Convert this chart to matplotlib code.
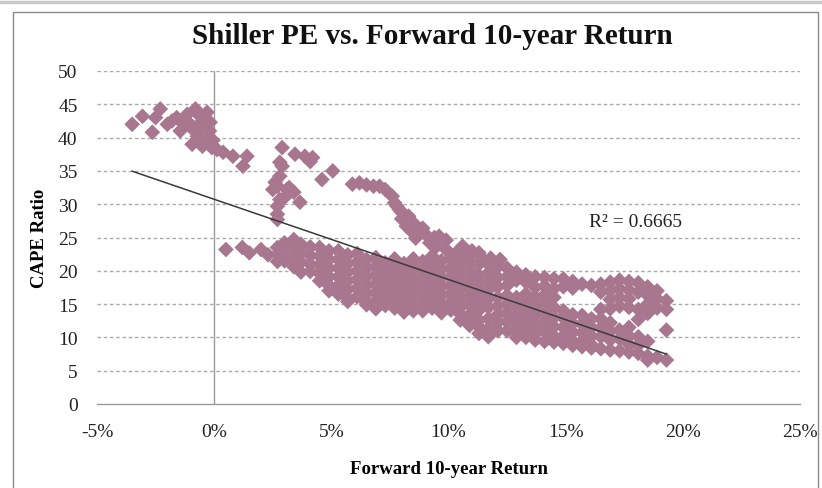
import numpy as np
import matplotlib
matplotlib.use("Agg")
import matplotlib.pyplot as plt

SERIF = ["Liberation Serif", "DejaVu Serif"]
DOT = "#a8778f"

# 1995-2000 bubble: negative forward returns, CAPE around 40
bubble_x = [-3.5, -3.06, -2.64, -2.5, -2.3, -2.0, -1.8, -1.6, -1.45, -1.3, -1.15,
            -1.1, -0.94, -0.9, -0.8, -0.72, -0.65, -0.6, -0.5, -0.47, -0.4, -0.3,
            -0.25, -0.2, -0.17, -0.1, -0.05, 0.12, 0.38, 0.8, 1.23, 1.4]
bubble_y = [42.0, 43.2, 40.8, 43.0, 44.3, 42.0, 42.5, 43.0, 41.0, 42.0, 43.5,
            42.3, 39.0, 41.2, 44.3, 40.2, 42.0, 43.2, 38.7, 41.6, 42.8, 43.8,
            40.0, 41.0, 42.3, 38.5, 39.6, 38.2, 37.8, 37.2, 35.7, 37.2]

# high-CAPE column near 3%
col_x = [2.9, 3.45, 3.87, 4.1, 4.2, 2.8, 2.9, 2.8, 2.7, 2.5, 2.6, 3.1, 3.4,
         3.2, 3.0, 2.8, 3.66, 2.7, 2.7, 2.7]
col_y = [38.5, 37.5, 37.2, 36.4, 37.0, 36.3, 35.7, 34.2, 32.7, 32.2, 33.3,
         32.2, 31.8, 32.5, 31.0, 30.7, 30.3, 29.7, 28.5, 27.7]

# the 32-35 shelf between 4.5% and 7.5%
mid_x = [4.6, 5.06, 5.9, 6.2, 6.5, 6.8, 7.06, 7.3]
mid_y = [33.7, 35.0, 33.0, 33.2, 32.9, 32.7, 32.7, 32.2]

# upper arm sliding down into the main band
arm_x = [7.6, 7.7, 7.8, 7.9, 8.0, 8.0, 8.2, 8.3, 8.4, 8.5, 8.6, 8.6, 8.9, 9.1,
         9.2, 9.4, 9.5, 9.6, 9.9, 9.9, 10.3, 10.6, 10.8, 11.0, 11.3, 11.4,
         11.8, 12.2]
arm_y = [31.2, 30.2, 29.7, 29.2, 28.8, 27.8, 26.7, 28.2, 26.0, 27.2, 25.8,
         24.9, 26.4, 25.2, 24.2, 25.0, 23.7, 25.2, 23.2, 24.6, 22.6, 23.7,
         22.1, 23.0, 22.7, 22.0, 21.9, 21.7]

# main band, read column by column (x, CAPE values)
band_cols = [
    (0.5, [23.2]), (1.2, [23.5]), (1.5, [22.7]), (2.0, [23.2]), (2.3, [22.4]),
    (2.7, [23.5, 22.5, 21.4]),
    (3.0, [24.2, 23.0, 21.5]),
    (3.4, [24.7, 23.4, 22.1, 20.6]),
    (3.7, [24.0, 22.7, 21.3, 19.8]),
    (4.1, [23.6, 22.3, 21.0, 19.9]),
    (4.5, [23.5, 22.2, 20.9, 19.6, 18.5]),
    (4.9, [23.0, 21.7, 20.4, 19.1, 17.8, 17.0]),
    (5.3, [23.0, 21.7, 20.4, 19.1, 17.8, 16.5]),
    (5.7, [22.4, 21.1, 19.8, 18.5, 17.2, 15.9, 15.4]),
    (6.1, [22.6, 21.3, 20.0, 18.7, 17.4, 16.1]),
    (6.5, [21.7, 20.4, 19.1, 17.8, 16.5, 15.2, 14.9]),
    (6.9, [22.0, 20.7, 19.4, 18.1, 16.8, 15.5, 14.3]),
    (7.3, [21.2, 19.9, 18.6, 17.3, 16.0, 14.8]),
    (7.7, [21.8, 20.5, 19.2, 17.9, 16.6, 15.3, 14.4]),
    (8.1, [21.1, 19.8, 18.5, 17.2, 15.9, 14.6, 13.8]),
    (8.5, [21.8, 20.5, 19.2, 17.9, 16.6, 15.3, 14.0]),
    (8.9, [21.4, 20.1, 18.8, 17.5, 16.2, 14.9, 14.0]),
    (9.3, [22.2, 20.9, 19.6, 18.3, 17.0, 15.7, 14.4]),
    (9.7, [21.5, 20.2, 18.9, 17.6, 16.3, 15.0, 13.7]),
    (10.1, [21.8, 20.5, 19.2, 17.9, 16.6, 15.3, 14.1]),
    (10.5, [21.0, 19.7, 18.4, 17.1, 15.8, 14.5, 13.5, 12.6]),
    (10.9, [21.4, 20.1, 18.8, 17.5, 16.2, 14.9, 13.4, 11.8]),
    (11.3, [21.0, 19.3, 18.0, 16.7, 15.4, 14.1, 12.6, 11.6, 10.6]),
    (11.7, [21.0, 19.7, 18.4, 17.1, 15.8, 14.5, 12.8, 11.3, 10.1]),
    (12.1, [20.6, 19.0, 17.6, 16.0, 14.7, 13.4, 12.2, 11.0]),
    (12.5, [20.4, 19.1, 17.8, 16.3, 15.0, 13.7, 12.4, 11.0]),
    (12.9, [19.8, 18.6, 16.0, 14.6, 13.2, 11.9, 10.6, 10.0]),
    (13.3, [19.4, 18.3, 16.5, 15.2, 13.9, 12.6, 11.3, 10.0]),
    (13.7, [19.1, 17.5, 16.0, 14.6, 13.2, 11.8, 10.5, 9.6]),
    (14.1, [19.0, 17.7, 16.4, 15.1, 13.7, 12.3, 10.9, 9.4]),
    (14.5, [18.8, 17.3, 16.0, 14.5, 13.0, 11.6, 10.2, 9.3]),
    (14.9, [18.8, 17.6, 14.0, 12.9, 11.5, 10.2, 9.1]),
    (15.3, [18.4, 17.4, 13.4, 12.1, 10.8, 9.5, 8.8]),
    (15.7, [18.0, 13.3, 12.0, 10.7, 9.4, 8.6]),
    (16.1, [17.8, 12.8, 11.5, 10.2, 8.9, 8.4]),
    (16.5, [18.0, 16.8, 14.2, 12.8, 11.4, 10.1, 8.3]),
    (16.9, [18.3, 17.0, 15.7, 14.3, 12.2, 10.9, 9.6, 8.1]),
    (17.3, [18.6, 17.3, 16.0, 14.7, 11.1, 9.8, 8.0]),
    (17.7, [18.4, 17.1, 15.8, 14.5, 11.5, 10.2, 9.0, 7.8]),
    (18.1, [18.2, 16.8, 14.2, 12.7, 10.1, 8.8, 7.6]),
    (18.5, [17.6, 16.3, 15.0, 13.6, 9.4, 7.2, 6.6]),
    (18.9, [17.0, 15.8, 14.4, 7.0]),
    (19.3, [15.5, 14.2, 11.1, 6.6]),
]

# Excel linear trendline
trend_slope = -1.205
trend_intercept = 30.74
r2_label = "R\u00b2 = 0.6665"

band_x = [x for x, ys in band_cols for _ in ys]
band_y = [y for _, ys in band_cols for y in ys]
xs = np.array(bubble_x + col_x + mid_x + arm_x + band_x)
ys = np.array(bubble_y + col_y + mid_y + arm_y + band_y)

W, H = 822, 489
fig = plt.figure(figsize=(W / 100, H / 100), dpi=100)

# chart-area frame like the Excel screenshot
fig.add_artist(plt.Line2D([0, 1], [1 - 3 / H, 1 - 3 / H], color="#c8c8c8", lw=2.5))
fig.add_artist(plt.Rectangle((13 / W, -0.02), (818 - 13) / W, 1 - 13 / H + 0.02,
                             fill=False, edgecolor="#8a8a8a", lw=1.0))

ax = fig.add_axes([97 / W, 1 - 405 / H, (800 - 97) / W, (405 - 72) / H])
ax.set_xlim(-5, 25)
ax.set_ylim(0, 50)

for v in range(5, 51, 5):
    ax.axhline(v, color="#a9a9a9", lw=1.0, ls=(0, (2.5, 2.0)), zorder=0)
ax.axvline(0, color="#9a9a9a", lw=1.0, zorder=1)

ax.scatter(xs, ys, marker="D", s=64, color=DOT, edgecolors="none", zorder=2)

tx = np.array([xs.min(), xs.max()])
ax.plot(tx, trend_intercept + trend_slope * tx, color="#3a3a3a", lw=1.1, zorder=3)
ax.text(18.0, 27.4, r2_label, family=SERIF, fontsize=14, color="#222222",
        ha="center", va="center")

for side in ("top", "right", "left"):
    ax.spines[side].set_visible(False)
ax.spines["bottom"].set_color("#9a9a9a")
ax.spines["bottom"].set_linewidth(1.0)

ax.set_xticks(range(-5, 26, 5))
ax.set_xticklabels([f"{v}%" for v in range(-5, 26, 5)])
ax.set_yticks(range(0, 51, 5))
ax.tick_params(length=0, labelsize=14, colors="#222222")
ax.tick_params(axis="y", pad=14)
ax.tick_params(axis="x", pad=14)
for lab in ax.get_xticklabels() + ax.get_yticklabels():
    lab.set_family(SERIF)

ax.set_xlabel("Forward 10-year Return", family=SERIF, fontsize=13.5,
              fontweight="bold", labelpad=14)
ax.set_ylabel("CAPE Ratio", family=SERIF, fontsize=13.5, fontweight="bold",
              labelpad=7)

fig.text(432 / W, 1 - 36 / H, "Shiller PE vs. Forward 10-year Return",
         family=SERIF, fontsize=21, fontweight="bold", ha="center", va="center",
         color="#111111")

fig.savefig("out.png", dpi=100)
